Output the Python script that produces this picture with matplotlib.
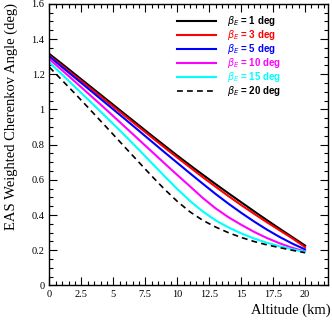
import matplotlib
matplotlib.use("Agg")
import matplotlib.pyplot as plt
from matplotlib.ticker import MultipleLocator

altitude = list(range(0, 21))

angle_1 = [1.315, 1.258, 1.200, 1.142, 1.084, 1.026, 0.968, 0.910, 0.852, 0.795, 0.738,
           0.683, 0.629, 0.576, 0.524, 0.473, 0.422, 0.372, 0.323, 0.275, 0.227]
angle_3 = [1.305, 1.248, 1.190, 1.132, 1.074, 1.016, 0.958, 0.900, 0.842, 0.784, 0.727,
           0.671, 0.615, 0.561, 0.508, 0.457, 0.408, 0.360, 0.314, 0.268, 0.218]
angle_5 = [1.300, 1.240, 1.180, 1.120, 1.060, 1.000, 0.940, 0.879, 0.818, 0.757, 0.697,
           0.637, 0.578, 0.520, 0.465, 0.413, 0.364, 0.318, 0.276, 0.238, 0.205]
angle_10 = [1.286, 1.222, 1.158, 1.093, 1.028, 0.962, 0.895, 0.828, 0.761, 0.694, 0.628,
            0.563, 0.497, 0.438, 0.388, 0.345, 0.305, 0.270, 0.240, 0.214, 0.193]
angle_15 = [1.267, 1.198, 1.128, 1.058, 0.988, 0.917, 0.845, 0.771, 0.696, 0.621, 0.548,
            0.480, 0.420, 0.370, 0.330, 0.296, 0.267, 0.243, 0.223, 0.206, 0.190]
angle_20 = [1.240, 1.165, 1.090, 1.013, 0.935, 0.857, 0.778, 0.700, 0.622, 0.547, 0.478,
            0.418, 0.370, 0.332, 0.300, 0.273, 0.250, 0.231, 0.215, 0.200, 0.186]

labels = ["1 deg", "3 deg", "5 deg", "10 deg", "15 deg", "20 deg"]
colors = ["black", "red", "blue", "magenta", "cyan", "black"]


def main():
    fig = plt.figure(figsize=(3.32, 3.24), dpi=100)
    ax = fig.add_axes([0.149, 0.119, 0.839, 0.869])

    series = [angle_1, angle_3, angle_5, angle_10, angle_15, angle_20]
    for i, vals in enumerate(series):
        if i == 5:
            ax.plot(altitude, vals, color=colors[i], lw=1.2, ls=(0, (3.5, 2.5)))
        else:
            ax.plot(altitude, vals, color=colors[i], lw=1.5)

    # legend drawn by hand, ROOT style
    for i, lab in enumerate(labels):
        y = 1.503 - i * 0.0793
        ls = (0, (3.5, 2.5)) if i == 5 else "-"
        ax.plot([10.0, 13.0], [y, y], color=colors[i], lw=1.5 if i < 5 else 1.2, ls=ls)
        ax.text(13.9, y, r"$\beta_E$ = " + lab, color=colors[i], fontsize=7,
                fontweight="bold", family="Liberation Sans", va="center", ha="left")

    ax.set_xlim(0, 21.8)
    ax.set_ylim(0, 1.6)
    ax.xaxis.set_minor_locator(MultipleLocator(0.5))
    ax.yaxis.set_minor_locator(MultipleLocator(0.05))
    ax.set_xticks([0, 2.5, 5, 7.5, 10, 12.5, 15, 17.5, 20])
    ax.set_xticklabels(["0", "2.5", "5", "7.5", "10", "12.5", "15", "17.5", "20"])
    ax.set_yticks([0, 0.2, 0.4, 0.6, 0.8, 1.0, 1.2, 1.4, 1.6])
    ax.set_yticklabels(["0", "0.2", "0.4", "0.6", "0.8", "1", "1.2", "1.4", "1.6"])
    ax.tick_params(which="both", direction="in", top=True, right=True,
                   labelsize=7.5, width=0.8)
    ax.tick_params(which="major", length=6)
    ax.tick_params(which="minor", length=3)
    for lab in ax.get_xticklabels() + ax.get_yticklabels():
        lab.set_family("Liberation Serif")
    for s in ax.spines.values():
        s.set_linewidth(1.0)

    fig.text(0.035, 0.64, "EAS Weighted Cherenkov Angle (deg)", rotation=90,
             family="Liberation Serif", fontsize=10.5, ha="center", va="center")
    fig.text(0.995, 0.043, "Altitude (km)", family="Liberation Serif",
             fontsize=10.5, ha="right", va="center")

    fig.savefig("out.png", dpi=100)


if __name__ == "__main__":
    main()
